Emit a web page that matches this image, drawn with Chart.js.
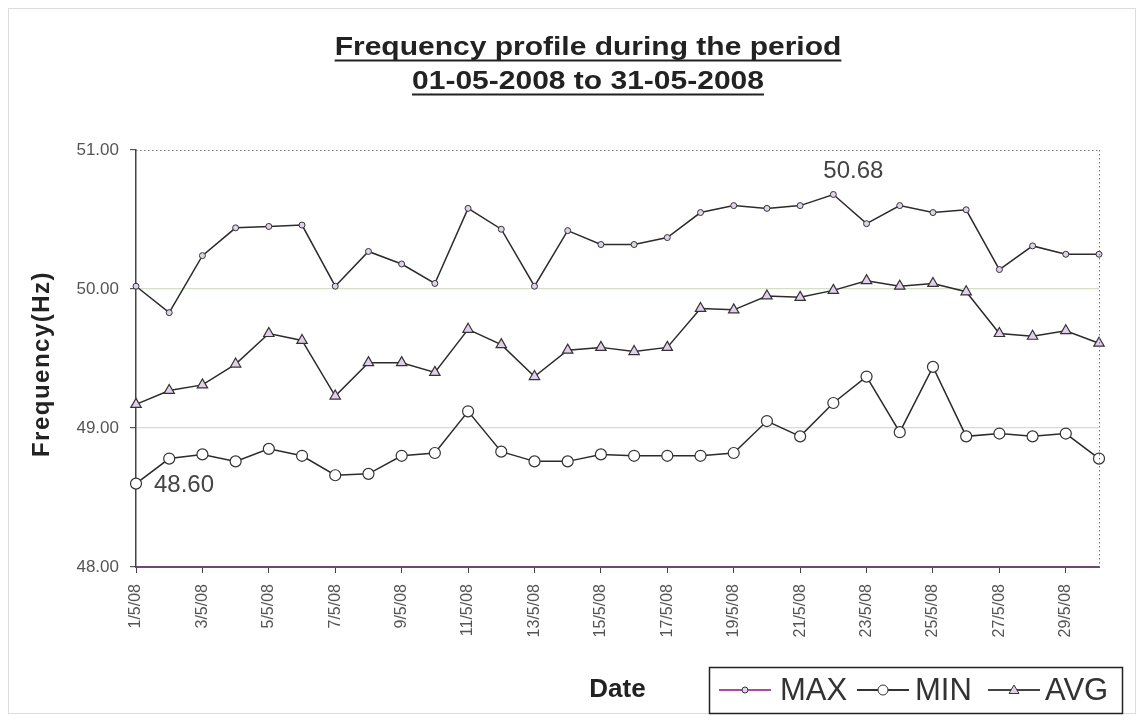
<!DOCTYPE html>
<html>
<head>
<meta charset="utf-8">
<style>
  html, body { margin: 0; padding: 0; background: #ffffff; }
  #wrap { position: relative; width: 1143px; height: 721px; }
</style>
<script src="https://cdn.jsdelivr.net/npm/chart.js@4/dist/chart.umd.min.js"></script>
</head>
<body>
<div id="wrap"><canvas id="c" width="1143" height="721"></canvas></div>
<script>
// ---- data ----
const dates = ["1/5/08","2/5/08","3/5/08","4/5/08","5/5/08","6/5/08","7/5/08","8/5/08","9/5/08","10/5/08",
  "11/5/08","12/5/08","13/5/08","14/5/08","15/5/08","16/5/08","17/5/08","18/5/08","19/5/08","20/5/08",
  "21/5/08","22/5/08","23/5/08","24/5/08","25/5/08","26/5/08","27/5/08","28/5/08","29/5/08","30/5/08"];
const maxValues = [50.02,49.83,50.24,50.44,50.45,50.46,50.02,50.27,50.18,50.04,
  50.58,50.43,50.02,50.42,50.32,50.32,50.37,50.55,50.60,50.58,
  50.60,50.68,50.47,50.60,50.55,50.57,50.14,50.31,50.25,50.25];
const minValues = [48.60,48.78,48.81,48.76,48.85,48.80,48.66,48.67,48.80,48.82,
  49.12,48.83,48.76,48.76,48.81,48.80,48.80,48.80,48.82,49.05,
  48.94,49.18,49.37,48.97,49.44,48.94,48.96,48.94,48.96,48.78];
const avgValues = [49.17,49.27,49.31,49.46,49.68,49.63,49.23,49.47,49.47,49.40,
  49.71,49.60,49.37,49.56,49.58,49.55,49.58,49.86,49.85,49.95,
  49.94,49.99,50.06,50.02,50.04,49.98,49.68,49.66,49.70,49.61];
const yTicks = [48, 49, 50, 51];
const titleLines = ["Frequency profile during the period", "01-05-2008 to 31-05-2008"];
const seriesNames = ["MAX", "MIN", "AVG"];
const annotations = [
  { series: 0, index: 21, text: "50.68", dx: -10, dy: -23 },
  { series: 1, index: 0, text: "48.60", dx: 18, dy: 2 }
];

const lineColor = '#2b2b2b';

const decor = {
  id: 'decor',
  afterDraw(chart) {
    const ctx = chart.ctx;
    const a = chart.chartArea;
    ctx.save();
    // outer frame
    ctx.strokeStyle = '#dddddd';
    ctx.lineWidth = 1;
    ctx.strokeRect(8.5, 8.5, 1127, 705);
    // dotted top & right border
    ctx.strokeStyle = '#777';
    ctx.setLineDash([1.5, 2.5]);
    ctx.beginPath();
    ctx.moveTo(a.left, a.top + 0.5); ctx.lineTo(a.right, a.top + 0.5);
    ctx.moveTo(a.right + 0.5, a.top); ctx.lineTo(a.right + 0.5, a.bottom);
    ctx.stroke();
    ctx.setLineDash([]);

    // title (horizontally stretched like the source)
    ctx.fillStyle = '#222';
    ctx.strokeStyle = '#222';
    ctx.font = 'bold 25px "Liberation Sans", Arial, sans-serif';
    ctx.textAlign = 'center';
    ctx.textBaseline = 'alphabetic';
    const ty = [55, 89];
    titleLines.forEach((t, i) => {
      ctx.save();
      ctx.translate(588, ty[i]);
      ctx.scale(1.2, 1);
      ctx.fillText(t, 0, 0);
      const w = ctx.measureText(t).width;
      ctx.lineWidth = 2;
      ctx.beginPath();
      ctx.moveTo(-w / 2, 5.5);
      ctx.lineTo(w / 2, 5.5);
      ctx.stroke();
      ctx.restore();
    });

    // axis titles
    ctx.font = 'bold 24px "Liberation Sans", Arial, sans-serif';
    ctx.textBaseline = 'middle';
    ctx.save();
    ctx.translate(42, 364);
    ctx.rotate(-Math.PI / 2);
    ctx.letterSpacing = '1.5px';
    ctx.fillText('Frequency(Hz)', 0, 0);
    ctx.restore();
    ctx.font = 'bold 26px "Liberation Sans", Arial, sans-serif';
    ctx.fillText('Date', (a.left + a.right) / 2, 690);

    // annotations
    ctx.font = '24px "Liberation Sans", Arial, sans-serif';
    ctx.textAlign = 'left';
    ctx.fillStyle = '#444';
    annotations.forEach(an => {
      const meta = chart.getDatasetMeta(an.series);
      const el = meta.data[an.index];
      ctx.fillText(an.text, el.x + an.dx, el.y + an.dy);
    });

    // legend
    const lx = 709, ly = 667, lw = 413, lh = 46;
    ctx.fillStyle = '#fff';
    ctx.fillRect(lx, ly, lw, lh);
    ctx.strokeStyle = '#222';
    ctx.lineWidth = 1.5;
    ctx.strokeRect(lx + 0.5, ly + 0.5, lw, lh);
    const cy = ly + lh / 2;
    const entries = [
      { x: 719, tx: 780, col: '#a84aa8' },
      { x: 857, tx: 915, col: '#333' },
      { x: 988, tx: 1045, col: '#444' }
    ];
    ctx.font = '31px "Liberation Sans", Arial, sans-serif';
    entries.forEach((e, i) => {
      ctx.strokeStyle = e.col;
      ctx.lineWidth = 2;
      ctx.beginPath();
      ctx.moveTo(e.x, cy); ctx.lineTo(e.x + 52, cy);
      ctx.stroke();
      const ds = chart.data.datasets[i];
      const mx = e.x + 26;
      ctx.strokeStyle = '#333';
      ctx.lineWidth = 1;
      ctx.fillStyle = ds.pointBackgroundColor;
      ctx.beginPath();
      if (ds.pointStyle === 'triangle') {
        const r = 5;
        ctx.moveTo(mx, cy - r); ctx.lineTo(mx + r, cy + r * 0.7); ctx.lineTo(mx - r, cy + r * 0.7); ctx.closePath();
      } else {
        ctx.arc(mx, cy, i === 1 ? 5 : 3, 0, Math.PI * 2);
      }
      ctx.fill(); ctx.stroke();
      ctx.fillStyle = '#333';
      ctx.textAlign = 'left';
      ctx.textBaseline = 'middle';
      ctx.fillText(seriesNames[i], e.tx, cy + 1);
    });
    ctx.restore();
  }
};

new Chart(document.getElementById('c'), {
  type: 'line',
  data: {
    labels: dates,
    datasets: [
      { label: seriesNames[0], data: maxValues, borderColor: lineColor, borderWidth: 1.5,
        pointStyle: 'circle', pointRadius: 3, pointBackgroundColor: '#e0d2e8', pointBorderColor: '#333', pointBorderWidth: 1, tension: 0 },
      { label: seriesNames[1], data: minValues, borderColor: lineColor, borderWidth: 1.5,
        pointStyle: 'circle', pointRadius: 5.5, pointBackgroundColor: '#ffffff', pointBorderColor: '#333', pointBorderWidth: 1.2, tension: 0 },
      { label: seriesNames[2], data: avgValues, borderColor: lineColor, borderWidth: 1.5,
        pointStyle: 'triangle', pointRadius: 6, pointBackgroundColor: '#e2cfee', pointBorderColor: '#333', pointBorderWidth: 1.2, tension: 0 }
    ]
  },
  options: {
    responsive: false,
    animation: false,
    layout: { padding: { left: 0, top: 150, right: 44, bottom: 0 } },
    plugins: { legend: { display: false }, title: { display: false }, tooltip: { enabled: false } },
    scales: {
      x: {
        offset: false,
        grid: {
          drawOnChartArea: false, drawTicks: true, tickLength: 6,
          tickColor: c => (c.index % 2 === 0 ? '#444' : 'rgba(0,0,0,0)')
        },
        border: { color: '#6d4a6d', width: 2 },
        ticks: {
          autoSkip: false, maxRotation: 90, minRotation: 90, padding: 11,
          color: '#555',
          font: { family: '"Liberation Sans", Arial, sans-serif', size: 16 },
          callback: (v, i) => (i % 2 === 0 ? dates[i] : '')
        },
        afterFit: s => { s.height = 154; }
      },
      y: {
        min: yTicks[0], max: yTicks[yTicks.length - 1],
        afterBuildTicks: s => { s.ticks = yTicks.map(v => ({ value: v })); },
        ticks: {
          padding: 11, color: '#555',
          font: { family: '"Liberation Sans", Arial, sans-serif', size: 17 },
          callback: v => Number(v).toFixed(2)
        },
        grid: {
          color: c => (c.tick && (c.tick.value === 49 || c.tick.value === 50) ? '#d3e0c6' : 'rgba(0,0,0,0)'),
          tickLength: 6, tickColor: '#555', lineWidth: 1.2
        },
        border: { color: '#444', width: 1.5 },
        afterFit: s => { s.width = 136; }
      }
    }
  },
  plugins: [decor]
});
</script>
</body>
</html>
